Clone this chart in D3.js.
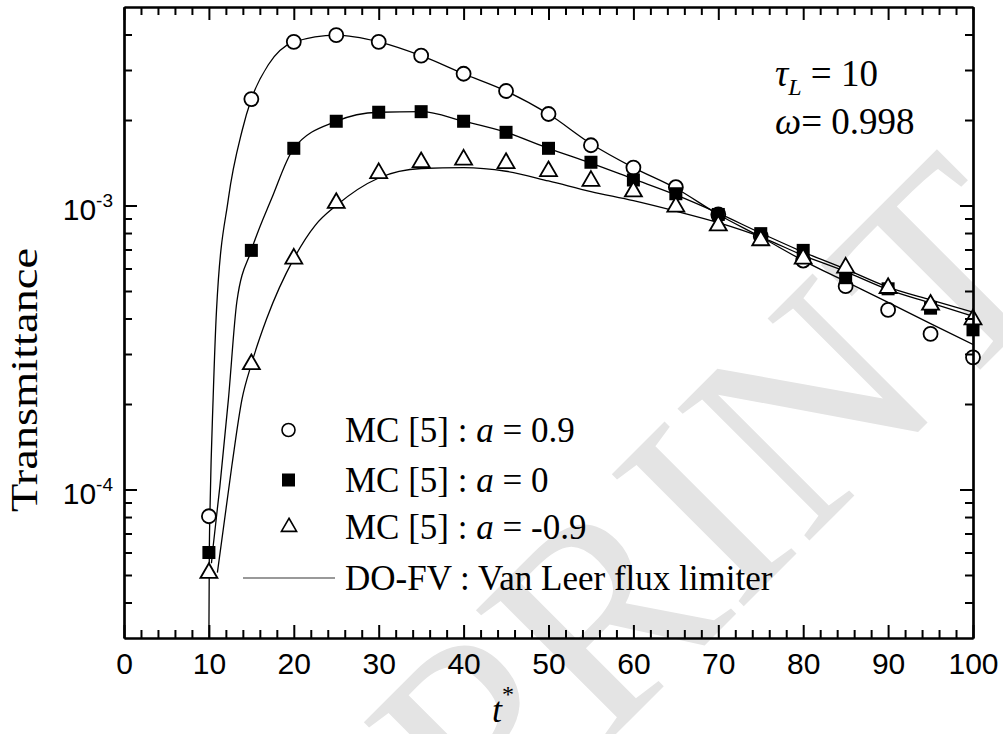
<!DOCTYPE html>
<html lang="en">
<head>
    <meta charset="UTF-8">
    <title>Transmittance vs t*</title>
    <script src="https://d3js.org/d3.v7.min.js"></script>
    <style>
        body { margin: 0; background: #fff; }
        .serif { font-family: "Liberation Serif", "Times New Roman", serif; }
        .sans { font-family: "Liberation Sans", Arial, sans-serif; }
    </style>
</head>
<body>
    <script>
        // MC [5] results, sampled every 5 time units
        const tMC = [10, 15, 20, 25, 30, 35, 40, 45, 50, 55, 60, 65, 70, 75, 80, 85, 90, 95, 100];
        const mcA09 = [8.05e-5, 2.37e-3, 3.77e-3, 3.98e-3, 3.77e-3, 3.37e-3, 2.91e-3, 2.53e-3, 2.10e-3, 1.63e-3,
                       1.36e-3, 1.16e-3, 0.93e-3, 7.8e-4, 6.4e-4, 5.2e-4, 4.29e-4, 3.53e-4, 2.92e-4];
        const mcA0 = [6.0e-5, 6.95e-4, 1.59e-3, 1.98e-3, 2.13e-3, 2.14e-3, 1.98e-3, 1.81e-3, 1.59e-3, 1.42e-3,
                      1.23e-3, 1.10e-3, 0.93e-3, 7.96e-4, 6.95e-4, 5.57e-4, 5.09e-4, 4.35e-4, 3.65e-4];
        const mcAm09 = [5.08e-5, 2.76e-4, 6.5e-4, 1.02e-3, 1.30e-3, 1.42e-3, 1.45e-3, 1.41e-3, 1.32e-3, 1.22e-3,
                        1.12e-3, 0.99e-3, 0.85e-3, 7.54e-4, 6.5e-4, 6.04e-4, 5.12e-4, 4.47e-4, 3.97e-4];

        // DO-FV (Van Leer flux limiter) curves
        const tFvA09 = [10, 10.05, 10.15, 10.5, 10.9, 12.3, 13.9, 15, 17, 20, 25, 30, 35, 40, 45, 50, 55,
                        60, 65, 70, 75, 80, 85, 90, 95, 100];
        const fvA09 = [3e-5, 6e-5, 9e-5, 2.1e-4, 4.3e-4, 1.06e-3, 1.83e-3, 2.37e-3, 3.13e-3, 3.76e-3, 3.98e-3,
                       3.77e-3, 3.37e-3, 2.91e-3, 2.53e-3, 2.10e-3, 1.65e-3, 1.36e-3, 1.15e-3, 0.93e-3, 7.75e-4,
                       6.4e-4, 5.4e-4, 4.56e-4, 3.84e-4, 3.24e-4];
        const tFvA0 = [10.3, 10.5, 11.3, 12.3, 13.3, 15, 17.4, 20, 25, 30, 35, 40, 45, 50, 55,
                       60, 65, 70, 75, 80, 85, 90, 95, 100];
        const fvA0 = [5.5e-5, 6.3e-5, 1.03e-4, 2.08e-4, 4.6e-4, 6.95e-4, 1.06e-3, 1.59e-3, 1.98e-3, 2.13e-3,
                      2.14e-3, 1.98e-3, 1.81e-3, 1.59e-3, 1.41e-3, 1.24e-3, 1.09e-3, 0.94e-3, 8.0e-4, 6.86e-4,
                      5.97e-4, 5.16e-4, 4.65e-4, 4.21e-4];
        const tFvAm09 = [11, 12.7, 13.9, 15, 16.8, 20, 22.5, 25, 30, 35, 40, 45, 50, 55,
                         60, 65, 70, 75, 80, 85, 90, 95, 100];
        const fvAm09 = [5.1e-5, 1.21e-4, 2.08e-4, 2.76e-4, 3.99e-4, 6.5e-4, 8.5e-4, 1.0e-3, 1.25e-3, 1.35e-3,
                        1.36e-3, 1.32e-3, 1.22e-3, 1.12e-3, 1.04e-3, 0.955e-3, 0.87e-3, 7.75e-4, 6.67e-4,
                        5.85e-4, 5.06e-4, 4.54e-4, 4.07e-4];

        const xMajor = d3.range(0, 101, 10);
        const xMinor = d3.range(0, 101, 2).filter(d => d % 10 !== 0);
        const yMajor = [1e-4, 1e-3];
        const yMajorExp = ["-4", "-3"];
        const yMinor = [4e-5, 5e-5, 6e-5, 7e-5, 8e-5, 9e-5, 2e-4, 3e-4, 4e-4, 5e-4, 6e-4, 7e-4, 8e-4, 9e-4,
                        2e-3, 3e-3, 4e-3];

        // Dimensions
        const margin = { top: 7, right: 30, bottom: 96, left: 124 };
        const width = 1003 - margin.left - margin.right;
        const height = 734 - margin.top - margin.bottom;

        const root = d3.select("body")
            .append("svg")
            .attr("width", 1003)
            .attr("height", 734);

        // Watermark
        root.append("text")
            .attr("class", "serif")
            .attr("transform", "translate(490,860) rotate(-45)")
            .attr("font-size", 285)
            .attr("fill", "#e4e4e4")
            .text("PRINT");

        const svg = root.append("g")
            .attr("transform", `translate(${margin.left},${margin.top})`);

        // Scales
        const x = d3.scaleLinear().domain([0, 100]).range([0, width]);
        const y = d3.scaleLog().domain([3e-5, 5e-3]).range([height, 0]);

        svg.append("clipPath").attr("id", "plot")
            .append("rect").attr("width", width).attr("height", height);

        // Curves
        const line = d3.line()
            .x(d => x(d[0]))
            .y(d => y(d[1]))
            .curve(d3.curveMonotoneX);

        const curves = [
            d3.zip(tFvA09, fvA09),
            d3.zip(tFvA0, fvA0),
            d3.zip(tFvAm09, fvAm09)
        ];
        svg.append("g").attr("clip-path", "url(#plot)")
            .selectAll("path")
            .data(curves)
            .enter()
            .append("path")
            .attr("d", line)
            .attr("fill", "none")
            .attr("stroke", "#000")
            .attr("stroke-width", 1.3);

        // Markers
        const tri = d3.symbol().type(d3.symbolTriangle).size(125);
        svg.selectAll(".c")
            .data(d3.zip(tMC, mcA09))
            .enter().append("circle")
            .attr("cx", d => x(d[0]))
            .attr("cy", d => y(d[1]))
            .attr("r", 7)
            .attr("fill", "#fff")
            .attr("stroke", "#000")
            .attr("stroke-width", 1.8);

        svg.selectAll(".s")
            .data(d3.zip(tMC, mcA0))
            .enter().append("rect")
            .attr("x", d => x(d[0]) - 6.5)
            .attr("y", d => y(d[1]) - 6.5)
            .attr("width", 13)
            .attr("height", 13)
            .attr("fill", "#000");

        svg.selectAll(".t")
            .data(d3.zip(tMC, mcAm09))
            .enter().append("path")
            .attr("d", tri)
            .attr("transform", d => `translate(${x(d[0])},${y(d[1])})`)
            .attr("fill", "#fff")
            .attr("stroke", "#000")
            .attr("stroke-width", 1.8);

        // Axes (ticks inward on all four sides)
        function styleAxis(g) {
            g.selectAll("path.domain").attr("stroke-width", 2.2);
            g.selectAll(".tick line").attr("stroke-width", 2);
        }

        svg.append("g")
            .attr("transform", `translate(0,${height})`)
            .call(d3.axisBottom(x).tickValues(xMajor).tickSize(-13).tickSizeOuter(0).tickPadding(15))
            .call(styleAxis)
            .call(g => g.selectAll("text").attr("class", "sans").attr("font-size", 30).attr("fill", "#000"));
        svg.append("g")
            .attr("transform", `translate(0,${height})`)
            .call(d3.axisBottom(x).tickValues(xMinor).tickSize(-8).tickSizeOuter(0).tickFormat(""))
            .call(styleAxis);
        svg.append("g")
            .call(d3.axisTop(x).tickValues(xMajor).tickSize(-13).tickSizeOuter(0).tickFormat(""))
            .call(styleAxis);
        svg.append("g")
            .call(d3.axisTop(x).tickValues(xMinor).tickSize(-8).tickSizeOuter(0).tickFormat(""))
            .call(styleAxis);

        svg.append("g")
            .call(d3.axisLeft(y).tickValues(yMajor).tickSize(-13).tickSizeOuter(0).tickFormat(""))
            .call(styleAxis);
        svg.append("g")
            .call(d3.axisLeft(y).tickValues(yMinor).tickSize(-8).tickSizeOuter(0).tickFormat(""))
            .call(styleAxis);
        svg.append("g")
            .attr("transform", `translate(${width},0)`)
            .call(d3.axisRight(y).tickValues(yMajor).tickSize(-13).tickSizeOuter(0).tickFormat(""))
            .call(styleAxis);
        svg.append("g")
            .attr("transform", `translate(${width},0)`)
            .call(d3.axisRight(y).tickValues(yMinor).tickSize(-8).tickSizeOuter(0).tickFormat(""))
            .call(styleAxis);

        // Y tick labels 10^n
        const ylab = svg.selectAll(".ylab")
            .data(yMajor)
            .enter().append("text")
            .attr("class", "sans")
            .attr("font-size", 30)
            .attr("text-anchor", "end")
            .attr("x", -11)
            .attr("y", d => y(d) + 14);
        ylab.append("tspan").text("10");
        ylab.append("tspan")
            .attr("font-size", 19)
            .attr("dy", -13)
            .text((d, i) => yMajorExp[i]);

        // Axis titles
        svg.append("text")
            .attr("class", "serif")
            .attr("font-size", 38)
            .attr("text-anchor", "middle")
            .attr("transform", `translate(${37 - margin.left},${380 - margin.top}) rotate(-90)`)
            .attr("textLength", 264)
            .attr("lengthAdjust", "spacingAndGlyphs")
            .text("Transmittance");

        const xt = svg.append("text")
            .attr("class", "serif")
            .attr("font-size", 36)
            .attr("x", 492 - margin.left)
            .attr("y", 722 - margin.top);
        xt.append("tspan").attr("font-style", "italic").text("t");
        xt.append("tspan").attr("font-size", 24).attr("dy", -20).text("*");

        // Parameters
        const p1 = svg.append("text").attr("class", "serif").attr("font-size", 37)
            .attr("x", 775 - margin.left).attr("y", 86 - margin.top);
        p1.append("tspan").attr("font-style", "italic").text("τ");
        p1.append("tspan").attr("font-style", "italic").attr("font-size", 24).attr("dy", 9).text("L");
        p1.append("tspan").attr("dy", -9).text(" = 10");
        const p2 = svg.append("text").attr("class", "serif").attr("font-size", 37)
            .attr("x", 775 - margin.left).attr("y", 134 - margin.top);
        p2.append("tspan").attr("font-style", "italic").text("ω");
        p2.append("tspan").text("= 0.998");

        // Legend
        const leg = root.append("g");
        const legText = [["MC [5] : ", "a", " = 0.9"], ["MC [5] : ", "a", " = 0"], ["MC [5] : ", "a", " = -0.9"]];
        const legY = [430, 480, 527];
        leg.append("circle").attr("cx", 288.5).attr("cy", legY[0]).attr("r", 6.5)
            .attr("fill", "#fff").attr("stroke", "#000").attr("stroke-width", 1.6);
        leg.append("rect").attr("x", 282).attr("y", legY[1] - 6.5).attr("width", 13).attr("height", 13)
            .attr("fill", "#000");
        leg.append("path").attr("d", d3.symbol().type(d3.symbolTriangle).size(100))
            .attr("transform", `translate(289,${legY[2]})`)
            .attr("fill", "#fff").attr("stroke", "#000").attr("stroke-width", 1.6);
        leg.append("line").attr("x1", 243).attr("x2", 335).attr("y1", 578).attr("y2", 578)
            .attr("stroke", "#777").attr("stroke-width", 1.5);

        legText.forEach((parts, i) => {
            const t = leg.append("text").attr("class", "serif").attr("font-size", 35)
                .attr("x", 345).attr("y", legY[i] + 11.5);
            t.append("tspan").text(parts[0]);
            t.append("tspan").attr("font-style", "italic").text(parts[1]);
            t.append("tspan").text(parts[2]);
        });
        leg.append("text").attr("class", "serif").attr("font-size", 35)
            .attr("x", 345).attr("y", 590)
            .text("DO-FV : Van Leer flux limiter");
    </script>
</body>
</html>
